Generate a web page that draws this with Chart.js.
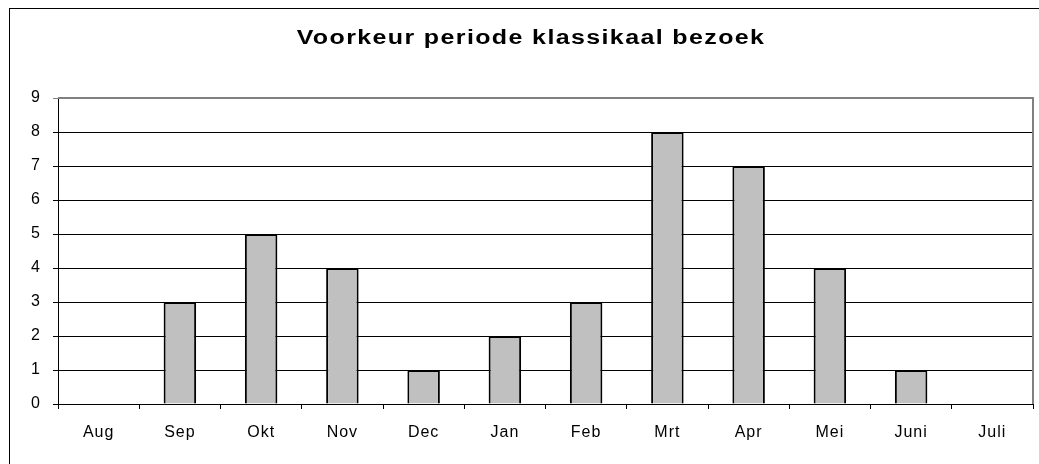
<!DOCTYPE html>
<html>
<head>
<meta charset="utf-8">
<script src="https://cdn.jsdelivr.net/npm/chart.js@4"></script>
<style>
    html, body { margin: 0; padding: 0; background: #fff; }
    #wrap { width: 1039px; height: 464px; position: relative; }
</style>
</head>
<body>
<div id="wrap"><canvas id="chart" width="1039" height="464"></canvas></div>
<script>
const chartTitle = 'Voorkeur periode klassikaal bezoek';
const months = ['Aug', 'Sep', 'Okt', 'Nov', 'Dec', 'Jan', 'Feb', 'Mrt', 'Apr', 'Mei', 'Juni', 'Juli'];
const counts = [0, 3, 5, 4, 1, 2, 3, 8, 7, 4, 1, 0];
const yTicks = [0, 1, 2, 3, 4, 5, 6, 7, 8, 9];

const FONT = '"Liberation Sans", Arial, sans-serif';

// outer frame, title and gray plot border (top / right)
const frame = {
    id: 'frame',
    beforeDraw(chart) {
        const ctx = chart.ctx;
        ctx.save();
        ctx.strokeStyle = '#000';
        ctx.lineWidth = 1;
        ctx.strokeRect(9.5, 8.5, 1100, 600);
        // title is drawn stretched, like the original
        ctx.fillStyle = '#000';
        ctx.font = 'bold 20px ' + FONT;
        ctx.letterSpacing = '1.1px';
        ctx.textAlign = 'center';
        ctx.textBaseline = 'alphabetic';
        ctx.translate(531, 44);
        ctx.scale(1.25, 1);
        ctx.fillText(chartTitle, 0, 0);
        ctx.restore();
        // the original labels are drawn a little wide
        ctx.letterSpacing = '1px';
    },
    beforeDatasetsDraw(chart) {
        const { ctx, chartArea } = chart;
        ctx.save();
        ctx.strokeStyle = '#808080';
        ctx.lineWidth = 2;
        ctx.beginPath();
        ctx.moveTo(chartArea.left, chartArea.top);
        ctx.lineTo(chartArea.right, chartArea.top);
        ctx.lineTo(chartArea.right, chartArea.bottom);
        ctx.stroke();
        ctx.restore();
    }
};

new Chart(document.getElementById('chart'), {
    type: 'bar',
    data: {
        labels: months,
        datasets: [{
            data: counts,
            backgroundColor: '#c0c0c0',
            borderColor: '#000',
            borderWidth: 2,
            barPercentage: 0.4,
            categoryPercentage: 1
        }]
    },
    options: {
        responsive: false,
        animation: false,
        layout: { padding: { left: 0, right: 6, top: 98, bottom: 0 } },
        plugins: {
            legend: { display: false },
            tooltip: { enabled: false }
        },
        scales: {
            x: {
                offset: true,
                grid: {
                    offset: true,
                    drawOnChartArea: false,
                    color: '#000',
                    tickLength: 5
                },
                border: { color: '#000', width: 1 },
                ticks: {
                    color: '#000',
                    font: { family: FONT, size: 16 },
                    padding: 14,
                    maxRotation: 0
                },
                afterFit(scale) { scale.height = 60; }
            },
            y: {
                min: 0,
                max: 9,
                afterBuildTicks(scale) {
                    scale.ticks = yTicks.map(v => ({ value: v }));
                },
                grid: {
                    color: (c) => c.tick && c.tick.value === 9 ? '#808080' : '#000',
                    tickLength: 5
                },
                border: { color: '#000', width: 1 },
                ticks: {
                    color: '#000',
                    font: { family: FONT, size: 16 },
                    padding: 12
                },
                afterFit(scale) { scale.width = 58; }
            }
        }
    },
    plugins: [frame]
});
</script>
</body>
</html>
